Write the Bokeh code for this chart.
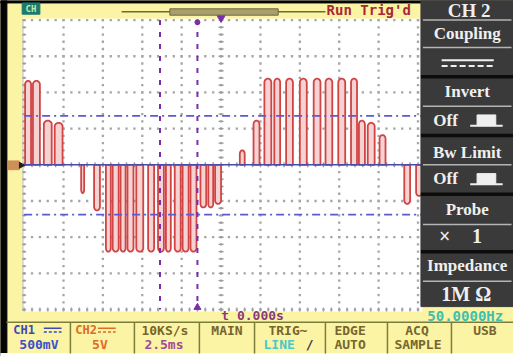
import numpy as np
from bokeh.plotting import figure
from bokeh.models import Range1d
from bokeh.embed import file_html
from bokeh.resources import INLINE
from bokeh.core.properties import value

# ---------------- data (CH2 trace) ----------------
# each pulse: start time (ms), end time (ms), level (V)
pulse_start_ms = [-12.44, -11.94, -11.25, -10.56,
                  -8.88, -8.06, -7.31, -6.88, -6.38, -5.94, -5.38, -4.63, -4.00,
                  -3.50, -2.94, -2.44, -1.94, -1.31, -0.81, -0.38,
                  1.19, 2.06, 2.75, 3.38, 4.13, 5.00, 5.88, 6.63, 7.44, 8.25,
                  8.75, 9.31, 10.06, 11.63, 12.38]
pulse_end_ms = [-12.06, -11.50, -10.75, -10.06,
                -8.69, -7.69, -7.00, -6.50, -6.06, -5.56, -4.94, -4.25, -3.63,
                -3.19, -2.56, -2.06, -1.56, -0.94, -0.50, 0.00,
                1.50, 2.44, 3.19, 3.75, 4.56, 5.44, 6.31, 7.06, 7.88, 8.63,
                9.13, 9.75, 10.44, 12.00, 12.75]
pulse_level_v = [11.6, 11.6, 6.1, 5.8,
                 -3.9, -6.3, -12.0, -12.0, -12.0, -12.0, -12.0, -12.0, -12.0,
                 -12.0, -12.0, -12.0, -12.0, -5.9, -5.9, -5.4,
                 2.0, 6.1, 11.9, 11.9, 11.9, 11.9, 11.9, 11.9, 11.9, 11.9,
                 6.1, 5.8, 4.1, -5.4, -4.3]

time_cursors_ms = [-3.875, -1.5]
volt_cursors_v = [6.76, -6.89]

time_per_div_ms = 2.5
volts_per_div = 5.0
h_divs = 10
v_divs = 8

menu_labels = ["Coupling", "Invert", "Bw Limit", "Probe", "Impedance"]
bottom_row1 = ["10KS/s", "MAIN", "EDGE", "ACQ", "USB"]
bottom_row2 = ["2.5ms", "AUTO", "SAMPLE"]

# ---------------- screen geometry ----------------
IMG_W, IMG_H = 521, 364
X0, Y0 = 224, 168          # pixel of t=0, V=0
PXD_X, PXD_Y = 40, 37      # pixels per division

YEL = "#fbf4a4"

p = figure(width=513, height=356, output_backend="svg", toolbar_location=None, tools="",
           x_range=Range1d(0, IMG_W), y_range=Range1d(IMG_H, 0),
           x_axis_location=None, y_axis_location=None, min_border=0,
           background_fill_color=YEL, border_fill_color=YEL, outline_line_color=None)
p.xgrid.visible = False
p.ygrid.visible = False

p.extra_x_ranges = {"t": Range1d((0 - X0) / PXD_X * time_per_div_ms,
                                 (IMG_W - X0) / PXD_X * time_per_div_ms)}
p.extra_y_ranges = {"v": Range1d((Y0 - IMG_H) / PXD_Y * volts_per_div,
                                 (Y0 - 0) / PXD_Y * volts_per_div)}
TV = dict(x_range_name="t", y_range_name="v")

# borders
p.quad(left=0, right=6.5, top=0, bottom=IMG_H, color="#050505")
p.quad(left=0, right=IMG_W, top=0, bottom=2.5, color="#050505")
p.quad(left=0, right=IMG_W, top=361, bottom=IMG_H, color="#ffffff")

# graticule background
p.quad(left=22.5, right=428, top=19, bottom=317.5, color="#ffffff")
p.line([22.8, 22.8], [19, 317.5], color="#b8bc88", line_width=1)

# graticule dots
half_t = h_divs / 2 * time_per_div_ms
half_v = v_divs / 2 * volts_per_div
gx, gy = [], []
for k in range(h_divs + 1):
    t = -half_t + k * time_per_div_ms
    for j in range(v_divs * 5 + 1):
        gx.append(t); gy.append(-half_v + j * volts_per_div / 5)
for k in range(v_divs + 1):
    v = -half_v + k * volts_per_div
    for j in range(h_divs * 5 + 1):
        gx.append(-half_t + j * time_per_div_ms / 5); gy.append(v)
p.scatter(gx, gy, marker="square", size=2.3, color="#a6a6a6", line_color=None, **TV)

# centre-axis ticks
vt = [-half_v + j * volts_per_div / 5 for j in range(v_divs * 5 + 1)]
ht = [-half_t + j * time_per_div_ms / 5 for j in range(h_divs * 5 + 1)]
p.scatter([0.0] * len(vt), vt, marker="dash", size=5, line_color="#9c9c9c", line_width=1.4, **TV)
p.scatter(ht, [0.0] * len(ht), marker="dash", size=5, angle=np.pi / 2, line_color="#9c9c9c", line_width=1.4, **TV)
p.scatter([-half_t] * len(vt), vt, marker="dash", size=4, line_color="#a0a0a0", line_width=1.2, **TV)
p.scatter(ht, [-half_v] * len(ht), marker="dash", size=4, angle=np.pi / 2, line_color="#a0a0a0", line_width=1.2, **TV)

# CH2 pulses
rv = 0.5
xs, ys = [], []
for s, e, lv in zip(pulse_start_ms, pulse_end_ms, pulse_level_v):
    sg = 1 if lv > 0 else -1
    xc, hw = (s + e) / 2, (e - s) / 2
    ph = np.linspace(np.pi, 0, 12)
    ax = list(xc + hw * np.cos(ph))
    ay = list(lv - sg * rv + sg * rv * np.sin(ph))
    xs.append([s] + ax + [e])
    ys.append([0.0] + ay + [0.0])
p.patches(xs, ys, fill_color="#f6d2d2", line_color="#d04444", line_width=1.8, **TV)

# baseline
p.line([-half_t, 12.7], [0, 0], color="#4b4ba8", line_width=1.6, **TV)

# cursors
p.multi_line([[-half_t, 12.7]] * len(volt_cursors_v), [[v, v] for v in volt_cursors_v],
             color="#5a5ad2", line_width=1.6, line_dash="8 4 2 4", **TV)
p.multi_line([[t, t] for t in time_cursors_ms], [[half_v, -half_v]] * len(time_cursors_ms),
             color="#7a2fa6", line_width=2, line_dash="5 7", **TV)
p.scatter([0.0], [half_v + 0.3], marker="triangle", angle=np.pi, size=8, color="#7a2fa6", **TV)
p.scatter([time_cursors_ms[1]], [half_v - 0.3], marker="circle", size=5, color="#7a2fa6", **TV)
p.scatter([time_cursors_ms[1]], [-half_v + 0.3], marker="triangle", size=7, color="#7a2fa6", **TV)

# CH2 ground marker
p.quad(left=8, right=19, top=164, bottom=173, color="#cf8f58")
p.scatter([21], [168.5], marker="triangle", angle=-np.pi / 2, size=6, color="#202020")

# top bar
p.quad(left=22, right=40, top=2.5, bottom=14, color="#1e7a6e")
p.text([31], [8.5], text=["CH"], text_font=value("DejaVu Sans Mono"), text_font_size=value("9px"),
       text_font_style="bold", text_color="#b8f0b0", text_align="center", text_baseline="middle")
p.line([123, 330], [11.5, 11.5], color="#6a6a3a", line_width=1.5)
p.quad(left=172, right=282, top=8.5, bottom=15, fill_color="#aa9e70", line_color="#6a6a3a", line_width=1)
p.text([374], [10], text=["Run Trig'd"], text_font=value("DejaVu Sans Mono"), text_font_size=value("14px"),
       text_font_style="bold", text_color="#a82838", text_align="center", text_baseline="middle")

# right menu panel
p.quad(left=427, right=IMG_W, top=0, bottom=313, color="#3a3a3a")
thin_y = [20, 48, 108, 168, 229, 287]
p.multi_line([[429, 519]] * len(thin_y), [[y, y] for y in thin_y], color="#b5b5b5", line_width=1.5)
thick_y = [78, 138, 198, 257]
p.multi_line([[427, IMG_W]] * len(thick_y), [[y, y] for y in thick_y], color="#0c0c0c", line_width=3.5)

serif = dict(text_font=value("Liberation Serif"), text_font_style="bold", text_color="#efefef",
             text_align="center", text_baseline="middle")
p.text([476], [10], text=["CH 2"], text_font_size=value("19px"), **serif)
p.text([474] * len(menu_labels), [34, 93, 155, 214, 271], text=menu_labels,
       text_font_size=value("17px"), **serif)
p.text([452, 452], [123, 182], text=["Off", "Off"], text_font_size=value("17px"), **serif)
p.text([451, 484], [241, 241], text=["\u00d7", "1"], text_font_size=value("20px"), **serif)
p.text([473], [300], text=["1M \u03a9"], text_font_size=value("20px"), **serif)
# DC coupling symbol
p.line([448, 501], [61, 61], color="#efefef", line_width=2)
p.line([448, 501], [67, 67], color="#efefef", line_width=2, line_dash="6 3")
# switch symbols
for yb in [128, 188]:
    p.quad(left=484, right=503, top=yb - 11, bottom=yb, color="#efefef")
    p.line([477, 510], [yb, yb], color="#efefef", line_width=2)

# bottom status
mono = dict(text_font=value("DejaVu Sans Mono"), text_font_style="bold",
            text_align="center", text_baseline="middle")
p.text([256], [322], text=["t 0.000s"], text_font_size=value("13px"), text_color="#8a3a7a", **mono)
p.text([472], [323], text=["50.0000Hz"], text_font_size=value("14px"), text_color="#3ec0b0", **mono)

p.line([6, IMG_W], [329, 329], color="#7c7c3c", line_width=1.5)
seps = [71, 136, 202, 258, 330, 393, 458]
p.multi_line([[x, x] for x in seps], [[329, 361]] * len(seps), color="#7c7c3c", line_width=1.5)

r1, r2 = 337, 352
p.text([24], [r1], text=["CH1"], text_font_size=value("12px"), text_color="#3a4ab8", **mono)
p.text([39], [r2], text=["500mV"], text_font_size=value("13px"), text_color="#3a50d0", **mono)
p.line([44, 62], [335, 335], color="#3a4ab8", line_width=1.5)
p.line([44, 62], [339, 339], color="#3a4ab8", line_width=1.5, line_dash="3 2")
p.text([87], [r1], text=["CH2"], text_font_size=value("12px"), text_color="#e06a28", **mono)
p.text([101], [r2], text=["5V"], text_font_size=value("13px"), text_color="#e06a28", **mono)
p.line([99, 117], [335, 335], color="#e06a28", line_width=1.5)
p.line([99, 117], [339, 339], color="#e06a28", line_width=1.5, line_dash="3 2")

p.text([167, 230, 355, 423, 492], [r1] * 5, text=bottom_row1, text_font_size=value("13px"),
       text_color="#76662e", **mono)
p.text([166], [r2], text=[bottom_row2[0]], text_font_size=value("13px"), text_color="#a04a9a", **mono)
p.text([355, 424], [r2, r2], text=bottom_row2[1:], text_font_size=value("13px"), text_color="#76662e", **mono)
p.text([292], [r1], text=["TRIG\u223c"], text_font_size=value("13px"), text_color="#76662e", **mono)
p.text([283], [r2], text=["LINE"], text_font_size=value("13px"), text_color="#4ac8c8", **mono)
p.text([314], [r2], text=["/"], text_font_size=value("13px"), text_color="#3a3a3a", **mono)

open("out.html", "w").write(file_html(p, INLINE))
